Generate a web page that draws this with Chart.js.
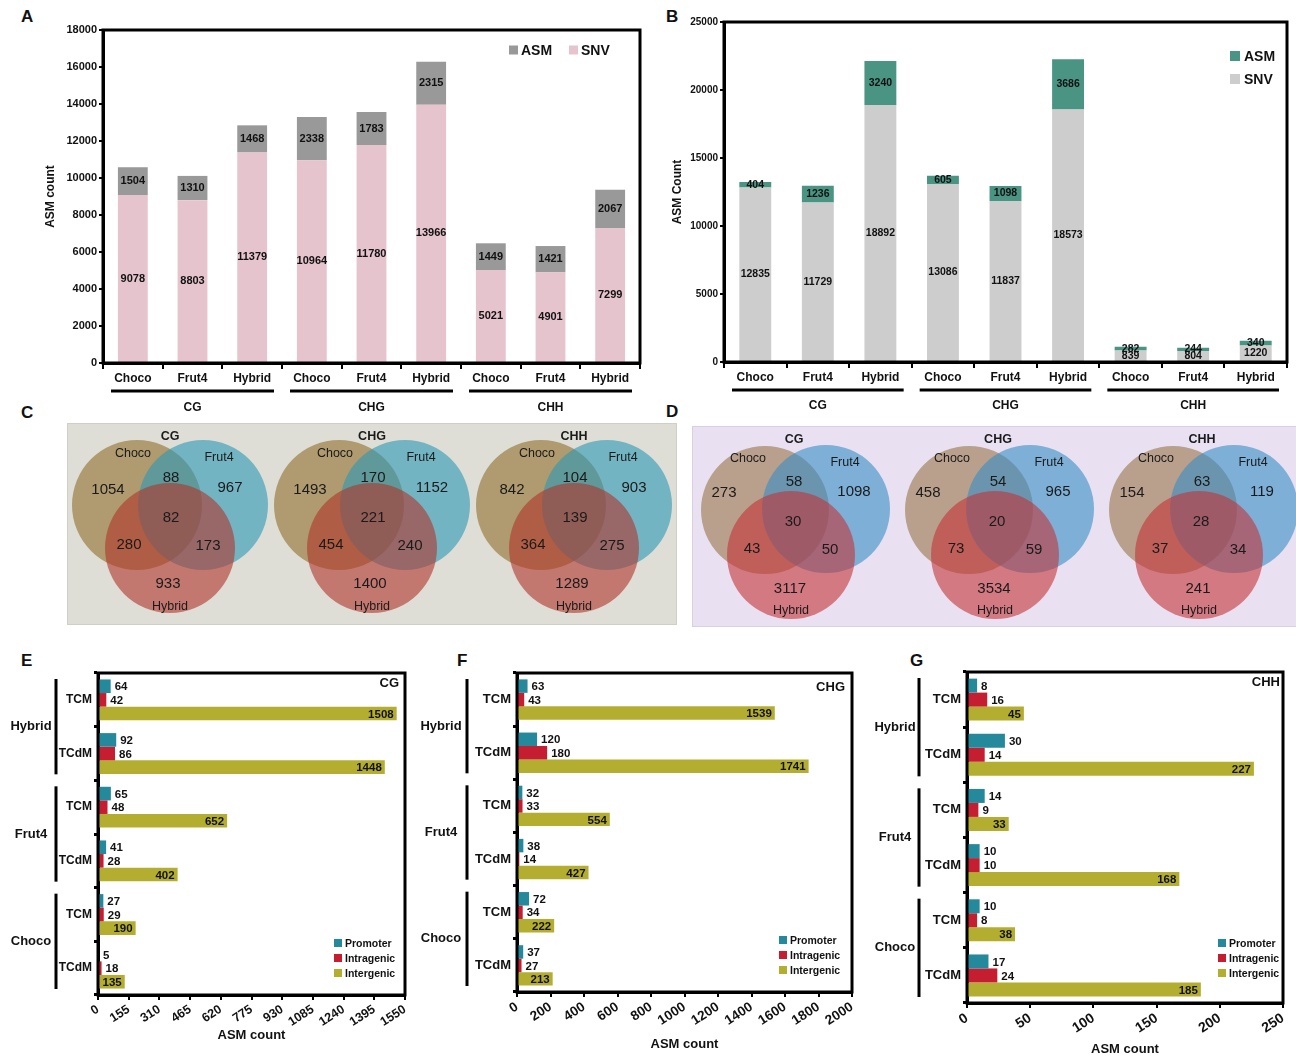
<!DOCTYPE html>
<html><head><meta charset="utf-8">
<script src="https://cdn.jsdelivr.net/npm/chart.js@4.4.1/dist/chart.umd.min.js"></script>
<style>
html,body{margin:0;padding:0;background:#fff}
body{width:1296px;height:1058px;position:relative;overflow:hidden;font-family:"Liberation Sans",Arial,sans-serif}
.p{position:absolute}
.letter{position:absolute;font-weight:bold;font-size:17px;color:#111;font-family:"Liberation Sans",Arial,sans-serif}
</style></head><body>
<div class="letter" style="left:21px;top:7px">A</div>
<div class="letter" style="left:666px;top:7px">B</div>
<div class="letter" style="left:21px;top:403px">C</div>
<div class="letter" style="left:666px;top:402px">D</div>
<div class="letter" style="left:21px;top:651px">E</div>
<div class="letter" style="left:457px;top:651px">F</div>
<div class="letter" style="left:910px;top:651px">G</div>

<div class="p" style="left:0;top:0;width:650px;height:420px"><canvas id="cA"></canvas></div>
<div class="p" style="left:650px;top:0;width:646px;height:420px"><canvas id="cB"></canvas></div>
<div class="p" style="left:68px;top:424px;width:608px;height:200px;background:#deded6;box-shadow:0 0 0 1px #cfcfc6"><canvas id="cC"></canvas></div>
<div class="p" style="left:693px;top:427px;width:603px;height:199px;background:#e9e1f1;box-shadow:0 0 0 1px #d8d0e0"><canvas id="cD"></canvas></div>
<div class="p" style="left:0;top:645px;width:420px;height:413px"><canvas id="cE"></canvas></div>
<div class="p" style="left:415px;top:645px;width:450px;height:413px"><canvas id="cF"></canvas></div>
<div class="p" style="left:865px;top:645px;width:431px;height:413px"><canvas id="cG"></canvas></div>

<script>
// ================= DATA =================
const barCats = ['Choco','Frut4','Hybrid','Choco','Frut4','Hybrid','Choco','Frut4','Hybrid'];
const contexts = ['CG','CHG','CHH'];
const aSNV = [9078, 8803, 11379, 10964, 11780, 13966, 5021, 4901, 7299];
const aASM = [1504, 1310, 1468, 2338, 1783, 2315, 1449, 1421, 2067];
const aYTicks = [0,2000,4000,6000,8000,10000,12000,14000,16000,18000];
const bSNV = [12835, 11729, 18892, 13086, 11837, 18573, 839, 804, 1220];
const bASM = [404, 1236, 3240, 605, 1098, 3686, 282, 244, 340];
const bYTicks = [0,5000,10000,15000,20000,25000];

const vennSets = ['Choco','Frut4','Hybrid'];
// region order: Choco only, Frut4 only, Hybrid only, Choco∩Frut4, all three, Choco∩Hybrid, Frut4∩Hybrid
const vennC_CG  = [1054, 967, 933, 88, 82, 280, 173];
const vennC_CHG = [1493, 1152, 1400, 170, 221, 454, 240];
const vennC_CHH = [842, 903, 1289, 104, 139, 364, 275];
const vennD_CG  = [273, 1098, 3117, 58, 30, 43, 50];
const vennD_CHG = [458, 965, 3534, 54, 20, 73, 59];
const vennD_CHH = [154, 119, 241, 63, 28, 37, 34];

const annoCats = ['TCM','TCdM','TCM','TCdM','TCM','TCdM'];
const annoGroups = ['Hybrid','Frut4','Choco'];
const regions = ['Promoter','Intragenic','Intergenic'];
const ePromoter   = [64, 92, 65, 41, 27, 5];
const eIntragenic = [42, 86, 48, 28, 29, 18];
const eIntergenic = [1508, 1448, 652, 402, 190, 135];
const eXTicks = [0,155,310,465,620,775,930,1085,1240,1395,1550];
const fPromoter   = [63, 120, 32, 38, 72, 37];
const fIntragenic = [43, 180, 33, 14, 34, 27];
const fIntergenic = [1539, 1741, 554, 427, 222, 213];
const fXTicks = [0,200,400,600,800,1000,1200,1400,1600,1800,2000];
const gPromoter   = [8, 30, 14, 10, 10, 17];
const gIntragenic = [16, 14, 9, 10, 8, 24];
const gIntergenic = [45, 227, 33, 168, 38, 185];
const gXTicks = [0,50,100,150,200,250];

// ================= SETUP =================
const FF = '"Liberation Sans", Arial, sans-serif';
Chart.defaults.font.family = FF;
Chart.defaults.color = '#111';
Chart.defaults.animation = false;
const plainNum = (v) => String(v);

const framePlugin = {id:'frame', afterDraw(chart, a, o){
  const {ctx, chartArea:c} = chart; ctx.save(); ctx.strokeStyle='#000'; ctx.lineWidth=o.width||3;
  ctx.strokeRect(c.left, c.top, c.right-c.left, c.bottom-c.top); ctx.restore();
}};

const stackLabels = {id:'stackLabels', afterDatasetsDraw(chart, a, o){
  const ctx = chart.ctx; ctx.save(); ctx.font = o.font; ctx.fillStyle='#111'; ctx.textAlign='center'; ctx.textBaseline='middle';
  chart.data.datasets.forEach((ds, di)=>{
    chart.getDatasetMeta(di).data.forEach((el, i)=>{
      ctx.fillText(String(ds.data[i]), el.x, (el.y+el.base)/2);
    });
  });
  ctx.restore();
}};

const customLegend = {id:'customLegend', afterDraw(chart, a, o){
  const {ctx, chartArea:c} = chart; ctx.save(); ctx.font=o.font; ctx.textBaseline='middle'; ctx.textAlign='left';
  o.items.forEach((di, i)=>{
    const ds = chart.data.datasets[di];
    const bx = c.right + o.dx + (o.horizontal ? i*o.step : 0);
    const by = c.top + o.dy + (o.horizontal ? 0 : i*o.step);
    ctx.fillStyle = ds.backgroundColor; ctx.fillRect(bx, by-o.box/2, o.box, o.box);
    ctx.fillStyle = '#111'; ctx.fillText(ds.label, bx+o.box+o.gap, by+1);
  });
  ctx.restore();
}};

const groupUnder = {id:'groupUnder', afterDraw(chart, a, o){
  const {ctx, chartArea:c} = chart; const xs = chart.scales.x; const n = chart.data.labels.length; const w=(c.right-c.left)/n;
  ctx.save(); ctx.strokeStyle='#000'; ctx.fillStyle='#111'; ctx.lineWidth=o.lineWidth; ctx.font=o.font; ctx.textAlign='center'; ctx.textBaseline='middle';
  o.groups.forEach((g, gi)=>{
    const x0 = xs.getPixelForValue(gi*3) - w/2 + o.inset, x1 = xs.getPixelForValue(gi*3+2) + w/2 - o.inset;
    ctx.beginPath(); ctx.moveTo(x0, c.bottom+o.lineDy); ctx.lineTo(x1, c.bottom+o.lineDy); ctx.stroke();
    ctx.fillText(g, (x0+x1)/2, c.bottom+o.textDy);
  });
  ctx.restore();
}};

const groupSide = {id:'groupSide', afterDraw(chart, a, o){
  const {ctx, chartArea:c} = chart; const ys = chart.scales.y; const n = chart.data.labels.length; const h=(c.bottom-c.top)/n;
  ctx.save(); ctx.strokeStyle='#000'; ctx.fillStyle='#111'; ctx.lineWidth=3; ctx.font=o.font; ctx.textAlign='center'; ctx.textBaseline='middle';
  o.groups.forEach((g, gi)=>{
    const y0 = ys.getPixelForValue(gi*2) - h/2 + o.inset, y1 = ys.getPixelForValue(gi*2+1) + h/2 - o.inset;
    ctx.beginPath(); ctx.moveTo(c.left+o.lineDx, y0); ctx.lineTo(c.left+o.lineDx, y1); ctx.stroke();
    ctx.fillText(g, c.left+o.textDx, (y0+y1)/2);
  });
  ctx.restore();
}};

const barValues = {id:'barValues', afterDatasetsDraw(chart, a, o){
  const ctx = chart.ctx; ctx.save(); ctx.font=o.font; ctx.fillStyle='#111'; ctx.textBaseline='middle';
  chart.data.datasets.forEach((ds, di)=>{
    chart.getDatasetMeta(di).data.forEach((el, i)=>{
      const v = String(ds.data[i]);
      if (di === o.insideIndex) { ctx.textAlign='right'; ctx.fillText(v, el.x-3, el.y+1); }
      else { ctx.textAlign='left'; ctx.fillText(v, el.x+4, el.y+1); }
    });
  });
  ctx.restore();
}};

const cornerTitle = {id:'cornerTitle', afterDraw(chart, a, o){
  const {ctx, chartArea:c} = chart; ctx.save(); ctx.font=o.font; ctx.fillStyle='#111'; ctx.textAlign='right'; ctx.textBaseline='middle';
  ctx.fillText(o.text, c.right+o.dx, c.top+o.dy); ctx.restore();
}};

// ================= A & B =================
function stackedChart(id, snv, asm, yTicks, cfg){
  return new Chart(document.getElementById(id), {
    type:'bar',
    data:{labels:barCats, datasets:[
      {label:'SNV', data:snv, backgroundColor:cfg.snvColor, barPercentage:cfg.barPct, categoryPercentage:1},
      {label:'ASM', data:asm, backgroundColor:cfg.asmColor, barPercentage:cfg.barPct, categoryPercentage:1}
    ]},
    options:{
      responsive:true, maintainAspectRatio:false, events:[],
      layout:{padding:cfg.padding},
      plugins:{legend:{display:false}, tooltip:{enabled:false},
        stackLabels:{font:cfg.valFont},
        customLegend:cfg.legend,
        groupUnder:{groups:contexts, inset:8, lineDy:28, textDy:cfg.groupTextDy, lineWidth:3, font:'bold 12px '+FF},
        frame:{width:3}
      },
      scales:{
        x:{stacked:true, grid:{display:true, drawOnChartArea:false, offset:true, tickLength:6, color:'#000', lineWidth:2},
           border:{color:'#000', width:3},
           ticks:{font:{weight:'bold', size:cfg.catSize}, color:'#111', padding:2, maxRotation:0, autoSkip:false},
           afterFit(s){ s.height = cfg.xHeight; }},
        y:{stacked:true, min:0, max:yTicks[yTicks.length-1],
           afterBuildTicks(s){ s.ticks = yTicks.map(v=>({value:v})); },
           grid:{drawOnChartArea:false, tickLength:4, color:'#000', lineWidth:2},
           border:{color:'#000', width:3},
           ticks:{font:{weight:'bold', size:cfg.ySize}, color:'#111', padding:2, callback:plainNum},
           title:{display:true, text:cfg.yTitle, font:{weight:'bold', size:12}, color:'#111'},
           afterFit(s){ s.width = cfg.yWidth; }}
      }
    },
    plugins:[stackLabels, customLegend, groupUnder, framePlugin]
  });
}

stackedChart('cA', aSNV, aASM, aYTicks, {
  snvColor:'#e6c4cd', asmColor:'#999999', barPct:0.5,
  padding:{left:39, top:30, right:10, bottom:0}, xHeight:57, yWidth:64,
  valFont:'bold 11px "Liberation Sans Narrow", '+FF, catSize:12, ySize:11, yTitle:'ASM count', groupTextDy:45,
  legend:{items:[1,0], horizontal:true, dx:-131, dy:20, step:60, box:9, gap:3, font:'bold 14px '+FF}
});
stackedChart('cB', bSNV, bASM, bYTicks, {
  snvColor:'#cdcdcd', asmColor:'#4a9484', barPct:0.51,
  padding:{left:16, top:22, right:9, bottom:0}, xHeight:58, yWidth:58,
  valFont:'bold 10.5px "Liberation Sans Narrow", '+FF, catSize:12, ySize:10, yTitle:'ASM Count', groupTextDy:44,
  legend:{items:[1,0], horizontal:false, dx:-57, dy:34, step:23, box:10, gap:4, font:'bold 14px '+FF}
});

// ================= C & D (Venn) =================
const vennText = {id:'vennText', afterDatasetsDraw(chart, a, o){
  const {ctx} = chart; const xs = chart.scales.x, ys = chart.scales.y;
  ctx.save(); ctx.fillStyle='#1a1a1a'; ctx.textAlign='center'; ctx.textBaseline='middle';
  o.venns.forEach((v, vi)=>{
    const cx = xs.getPixelForValue(o.centers[vi][0]), cy = ys.getPixelForValue(o.centers[vi][1]);
    ctx.font = 'bold 12.5px '+FF; ctx.fillText(contexts[vi], cx+o.off.title[0], cy+o.off.title[1]);
    ctx.font = '12.5px '+FF;
    vennSets.forEach((s, si)=>{ ctx.fillText(s, cx+o.off.names[si][0], cy+o.off.names[si][1]); });
    ctx.font = '15px '+FF;
    v.forEach((val, ri)=>{ ctx.fillText(String(val), cx+o.off.regions[ri][0], cy+o.off.regions[ri][1]); });
  });
  ctx.restore();
}};

function vennChart(id, venns, cfg){
  const el = document.getElementById(id);
  const W = el.parentNode.clientWidth, H = el.parentNode.clientHeight;
  const radius = (ctx)=>{ const s = ctx.chart.scales.x; return Math.abs(s.getPixelForValue(cfg.R) - s.getPixelForValue(0)); };
  const datasets = vennSets.map((name, si)=>({
    label:name,
    data: cfg.centers.map(c=>({x:c[0]+cfg.circ[si][0], y:c[1]+cfg.circ[si][1]})),
    backgroundColor: cfg.colors[si], borderWidth:0,
    pointRadius: radius, pointHoverRadius: radius, order: 3-si, clip:false
  }));
  return new Chart(el, {type:'scatter', data:{datasets},
    options:{responsive:true, maintainAspectRatio:false, events:[], layout:{padding:0},
      plugins:{legend:{display:false}, tooltip:{enabled:false},
        vennText:{venns, centers:cfg.centers, off:cfg.off}},
      scales:{x:{type:'linear', display:false, min:0, max:W}, y:{type:'linear', display:false, min:0, max:H, reverse:true}}
    }, plugins:[vennText]});
}

vennChart('cC', [vennC_CG, vennC_CHG, vennC_CHH], {
  R:65, centers:[[102,103],[304,103],[506,103]],
  circ:[[-33,-22],[33,-22],[0,21]],
  colors:['rgba(144,110,41,0.6)','rgba(44,152,182,0.6)','rgba(177,52,41,0.6)'],
  off:{title:[0,-90], names:[[-37,-73],[49,-69],[0,80]],
       regions:[[-62,-37],[60,-39],[-2,57],[1,-49],[1,-9],[-41,18],[38,19]]}
});
vennChart('cD', [vennD_CG, vennD_CHG, vennD_CHH], {
  R:64, centers:[[101,97],[305,97],[509,97]],
  circ:[[-29,-14],[32,-15],[-3,31]],
  colors:['rgba(154,117,73,0.6)','rgba(54,142,198,0.6)','rgba(195,51,57,0.6)'],
  off:{title:[0,-84], names:[[-46,-65],[51,-61],[-3,87]],
       regions:[[-70,-31],[60,-32],[-4,65],[0,-42],[-1,-2],[-42,25],[36,26]]}
});

// ================= E, F, G =================
function annoChart(id, prom, intra, inter, xTicks, cfg){
  return new Chart(document.getElementById(id), {
    type:'bar',
    data:{labels:annoCats, datasets:[
      {label:regions[0], data:prom,  backgroundColor:'#248a9b', categoryPercentage:0.76, barPercentage:1},
      {label:regions[1], data:intra, backgroundColor:'#c41e30', categoryPercentage:0.76, barPercentage:1},
      {label:regions[2], data:inter, backgroundColor:'#b4ae30', categoryPercentage:0.76, barPercentage:1}
    ]},
    options:{
      indexAxis:'y', responsive:true, maintainAspectRatio:false, events:[],
      layout:{padding:cfg.padding},
      plugins:{legend:{display:false}, tooltip:{enabled:false},
        barValues:{font:'bold 11.5px '+FF, insideIndex:2},
        customLegend:{items:[0,1,2], horizontal:false, dx:cfg.legDx, dy:cfg.legDy, step:15, box:8, gap:3, font:'bold 10.5px '+FF},
        groupSide:{groups:annoGroups, inset:6, lineDx:cfg.lineDx, textDx:cfg.textDx, font:'bold 13px '+FF},
        cornerTitle:{text:cfg.title, dx:cfg.titleDx, dy:cfg.titleDy, font:'bold 13px '+FF},
        frame:{width:3}
      },
      scales:{
        y:{grid:{display:true, drawOnChartArea:false, offset:true, tickLength:4, color:'#000', lineWidth:3},
           border:{color:'#000', width:3},
           ticks:{font:{weight:'bold', size:cfg.yLabSize}, color:'#111', padding:2, autoSkip:false},
           afterFit(s){ s.width = cfg.yWidth; }},
        x:{min:0, max:xTicks[xTicks.length-1],
           afterBuildTicks(s){ s.ticks = xTicks.map(v=>({value:v})); },
           grid:{drawOnChartArea:false, tickLength:5, color:'#000', lineWidth:2},
           border:{color:'#000', width:3},
           ticks:{font:{weight:'bold', size:cfg.tickSize}, color:'#111', padding:2, minRotation:33, maxRotation:33, autoSkip:false, callback:plainNum},
           title:{display:true, text:'ASM count', font:{weight:'bold', size:13}, color:'#111', padding:cfg.titlePad},
           afterFit(s){ s.height = cfg.xHeight; }}
      }
    },
    plugins:[barValues, customLegend, groupSide, cornerTitle, framePlugin]
  });
}

annoChart('cE', ePromoter, eIntragenic, eIntergenic, eXTicks, {
  padding:{top:28, right:15, bottom:11, left:0}, yWidth:98, xHeight:52, tickSize:12.5, yLabSize:12, titlePad:{top:4,bottom:4},
  legDx:-71, legDy:270, lineDx:-42, textDx:-67, title:contexts[0], titleDx:-6, titleDy:10
});
annoChart('cF', fPromoter, fIntragenic, fIntergenic, fXTicks, {
  padding:{top:28, right:13, bottom:2, left:0}, yWidth:102, xHeight:64, tickSize:13.5, yLabSize:13, titlePad:{top:4,bottom:4},
  legDx:-73, legDy:267, lineDx:-50, textDx:-76, title:contexts[1], titleDx:-7, titleDy:14
});
annoChart('cG', gPromoter, gIntragenic, gIntergenic, gXTicks, {
  padding:{top:27, right:13, bottom:1, left:0}, yWidth:102, xHeight:54, tickSize:14, yLabSize:13, titlePad:{top:2,bottom:0},
  legDx:-65, legDy:271, lineDx:-48, textDx:-72, title:contexts[2], titleDx:-3, titleDy:10
});
</script>
</body></html>
